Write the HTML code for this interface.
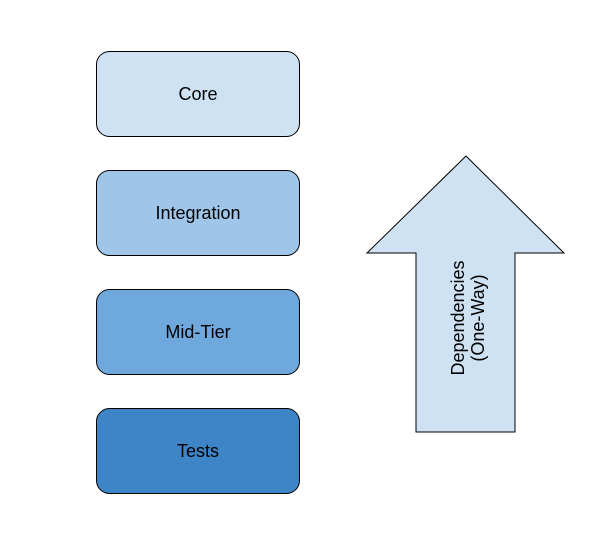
<!DOCTYPE html>
<html><head><style>
html,body{margin:0;padding:0;background:#fff;}
</style></head><body>
<svg width="616" height="556" xmlns="http://www.w3.org/2000/svg" style="display:block">
<g font-family="Liberation Sans, Arial, sans-serif" font-size="18" fill="#000" text-anchor="middle">
<rect x="96.5" y="51.5" width="203" height="85" rx="13" fill="#cfe2f3" stroke="#000" stroke-width="1"/>
<text x="198" y="100">Core</text>
<rect x="96.5" y="170.5" width="203" height="85" rx="13" fill="#9fc5e8" stroke="#000" stroke-width="1"/>
<text x="198" y="219">Integration</text>
<rect x="96.5" y="289.5" width="203" height="85" rx="13" fill="#6fa8dc" stroke="#000" stroke-width="1"/>
<text x="198" y="338">Mid-Tier</text>
<rect x="96.5" y="408.5" width="203" height="85" rx="13" fill="#3d85c6" stroke="#000" stroke-width="1"/>
<text x="198" y="457">Tests</text>
<polygon points="466,156 564,253 515,253 515,432 416,432 416,253 367,253" fill="#cfe2f3" stroke="#000" stroke-width="1"/>
<g transform="translate(467,318) rotate(-90)">
<text x="0" y="-3">Dependencies</text>
<text x="0" y="17">(One-Way)</text>
</g>
</g>
</svg>
</body></html>
